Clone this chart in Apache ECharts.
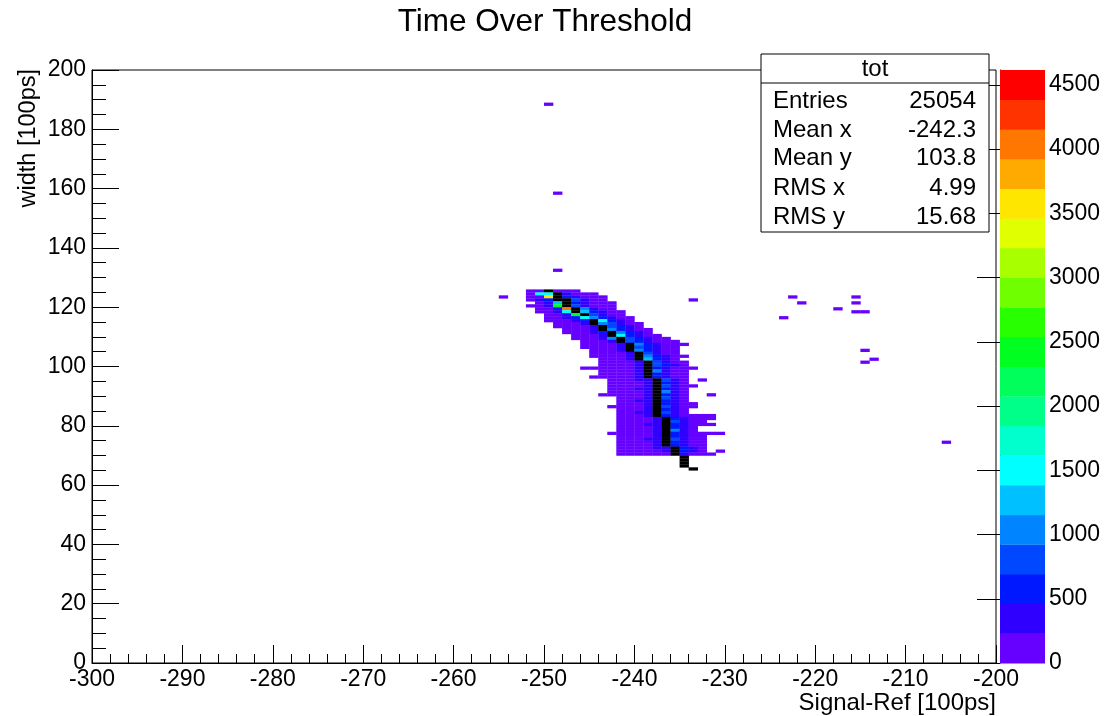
<!DOCTYPE html>
<html>
<head>
<meta charset="utf-8">
<title>Time Over Threshold</title>
<script src="https://cdn.jsdelivr.net/npm/echarts@6/dist/echarts.min.js"></script>
<style>
  html, body { margin: 0; padding: 0; background: #ffffff; }
  #chart { width: 1109px; height: 716px; }
</style>
</head>
<body>
<div id="chart"></div>
<script>
// ---- axis ranges and tick labels ----
const xRange = [-300, -200];
const yRange = [0, 200];
const xMajorStep = 10;
const yMajorStep = 20;
const zTicks = [0, 500, 1000, 1500, 2000, 2500, 3000, 3500, 4000, 4500];
const zMax = 4615;            // top of the colour scale
const aboveScaleCount = 5000; // bins drawn black, beyond the top of the scale

// ---- colour palette, lowest band first (20 contours) ----
const bandColors = [
  '#6600ff', '#3000ff', '#0018ff', '#0048ff', '#0084ff',
  '#00c0ff', '#00ffff', '#00ffcc', '#00ff88', '#00ff5a',
  '#00ff20', '#28ff00', '#70ff00', '#a8ff00', '#e0ff00',
  '#ffe600', '#ffaa00', '#ff7700', '#ff3300', '#ff0000'
];
const overflowColor = '#000000';

// ---- histogram "tot": one entry per y bin ----
// [y bin, first x bin, codes]; '.' = empty bin,
// '0'-'9','a'-'j' = colour band 0..19, 'K' = above the colour scale
const rows = [
  [125, -252, '00K000'],
  [124, -252, '066K1000'],
  [123, -252, '00fK21000'],
  [122, -252, '012KK3100'],
  [121, -251, '015K21000'],
  [120, -252, '001aK31000'],
  [119, -251, '002hK4100'],
  [118, -251, '0016K52100'],
  [117, -250, '001aK3100'],
  [116, -250, '0012642100'],
  [115, -250, '00012K6210'],
  [114, -249, '0001K43100'],
  [113, -249, '00001K3210'],
  [112, -248, '0001K42100'],
  [111, -248, '00012K4210'],
  [110, -247, '0001K62100'],
  [109, -247, '00014K32100'],
  [108, -246, '0001K321000'],
  [107, -246, '00001K421000'],
  [106, -246, '00001K32100'],
  [105, -245, '0001K42100'],
  [104, -245, '00001K3100'],
  [103, -245, '00001K42100'],
  [102, -244, '0001K5210'],
  [101, -244, '00001K3100'],
  [100, -244, '00001K3210'],
  [99,  -246, '0000001K21000'],
  [98,  -244, '00001K4100'],
  [97,  -244, '00001K2100'],
  [96,  -245, '000001K2100'],
  [95,  -243, '00011K310.0'],
  [94,  -243, '00001K210'],
  [93,  -243, '00001K3100'],
  [92,  -243, '00011K210'],
  [91,  -243, '00001K410'],
  [90,  -244, '000001K210..0'],
  [89,  -242, '0001K310'],
  [88,  -242, '0011K210'],
  [87,  -242, '0001K2100'],
  [86,  -243, '00001K3100'],
  [85,  -242, '0001K210'],
  [84,  -242, '0011K310'],
  [83,  -242, '0001K210000'],
  [82,  -242, '00001K21000'],
  [81,  -242, '00001K3100'],
  [80,  -242, '00011K21000'],
  [79,  -242, '00001K210'],
  [78,  -242, '00001K410'],
  [77,  -243, '000001K210000'],
  [76,  -242, '00001K2100'],
  [75,  -242, '00011K3100'],
  [74,  -242, '00001K2100'],
  [73,  -242, '00001K2100'],
  [72,  -242, '000011K210'],
  [71,  -242, '000001K210.0'],
  [70,  -242, '000000K1000'],
  [69,  -235, 'K'],
  [68,  -235, 'K'],
  [67,  -235, 'K'],
  [66,  -235, 'K'],
  [65,  -234, 'K']
];

// isolated bins away from the main band: [x bin, y bin, colour band]
const strayBins = [
  [-255, 123, 0], [-250, 188, 0], [-249, 158, 0], [-249, 132, 0],
  [-234, 122, 0], [-224, 116, 0], [-223, 123, 0], [-222, 121, 0],
  [-218, 119, 0], [-216, 123, 0], [-216, 121, 0], [-216, 118, 0],
  [-215, 118, 0], [-215, 105, 0], [-215, 101, 0], [-214, 102, 0],
  [-206, 74, 0]
];

// statistics box
const statsName = 'tot';
const statsLabels = ['Entries', 'Mean x', 'Mean y', 'RMS x', 'RMS y'];
const statsValues = ['25054', '-242.3', '103.8', '4.99', '15.68'];

const titleText = 'Time Over Threshold';
const xTitle = 'Signal-Ref [100ps]';
const yTitle = 'width [100ps]';

// ---- build the bin list ----
const bandWidth = zMax / bandColors.length;
function bandCount(band) { return (band + 0.5) * bandWidth; }
function codeCount(ch) { return ch === 'K' ? aboveScaleCount : bandCount(parseInt(ch, 36)); }

const bins = [];
rows.forEach(([y, x0, codes]) => {
  for (let i = 0; i < codes.length; i++) {
    const ch = codes[i];
    if (ch === '.') continue;
    bins.push([x0 + i, y, codeCount(ch)]);
  }
});
strayBins.forEach(([x, y, band]) => bins.push([x, y, bandCount(band)]));

function zColor(z) {
  if (z > zMax) return overflowColor;
  const b = Math.min(bandColors.length - 1, Math.floor(z / bandWidth));
  return bandColors[b];
}

// palette bands as data: [lower, upper, band index]
const paletteBands = bandColors.map((c, i) => [i * bandWidth, (i + 1) * bandWidth, i]);

// ---- layout ----
const FONT = '"Liberation Sans", Arial, Helvetica, sans-serif';
const plot = { left: 92, top: 70, width: 904, height: 593 };
const pal = { left: 1000, top: 70, width: 45, height: 593 };
const tickColor = '#000';

const chart = echarts.init(document.getElementById('chart'), null, { renderer: 'canvas' });

function renderBin(params, api) {
  const x = api.value(0), y = api.value(1), z = api.value(2);
  const a = api.coord([x, y + 1]);
  const b = api.coord([x + 1, y]);
  return {
    type: 'rect',
    shape: { x: a[0], y: a[1], width: b[0] - a[0] + 0.3, height: b[1] - a[1] + 0.3 },
    style: { fill: zColor(z) }
  };
}

function renderBand(params, api) {
  const lo = api.value(0), hi = api.value(1), i = api.value(2);
  const a = api.coord([0, hi]);
  const b = api.coord([1, lo]);
  return {
    type: 'rect',
    shape: { x: a[0], y: a[1], width: b[0] - a[0], height: b[1] - a[1] + 0.4 },
    style: { fill: bandColors[i] }
  };
}

// statistics box graphics
const sb = { left: 761, top: 54, right: 989, bottom: 232, sep: 83 };
const statsRowsY = [101, 130, 158, 188, 217];
const statsGraphics = [
  { type: 'rect', shape: { x: sb.left, y: sb.top, width: sb.right - sb.left, height: sb.bottom - sb.top },
    style: { fill: '#fff', stroke: '#000', lineWidth: 1 }, z: 100 },
  { type: 'line', shape: { x1: sb.left, y1: sb.sep, x2: sb.right, y2: sb.sep },
    style: { stroke: '#000', lineWidth: 1 }, z: 101 },
  { type: 'text', x: (sb.left + sb.right) / 2, y: 69, z: 101,
    style: { text: statsName, font: '24px ' + FONT, fill: '#000', align: 'center', verticalAlign: 'middle' } }
];
statsLabels.forEach((lab, i) => {
  statsGraphics.push({ type: 'text', x: 773, y: statsRowsY[i], z: 101,
    style: { text: lab, font: '24px ' + FONT, fill: '#000', align: 'left', verticalAlign: 'middle' } });
  statsGraphics.push({ type: 'text', x: 976, y: statsRowsY[i], z: 101,
    style: { text: statsValues[i], font: '24px ' + FONT, fill: '#000', align: 'right', verticalAlign: 'middle' } });
});

const plainNumber = v => String(v);

const option = {
  animation: false,
  backgroundColor: '#ffffff',
  textStyle: { fontFamily: FONT },
  grid: [
    Object.assign({ show: true, borderColor: '#000', borderWidth: 1, backgroundColor: 'transparent', outerBoundsMode: 'none' }, plot),
    Object.assign({ show: false, outerBoundsMode: 'none' }, pal)
  ],
  xAxis: [
    {
      gridIndex: 0, type: 'value', min: xRange[0], max: xRange[1], interval: xMajorStep,
      axisLine: { show: true, lineStyle: { color: tickColor, width: 1 } },
      axisTick: { show: true, inside: true, length: 18, lineStyle: { color: tickColor, width: 1 } },
      minorTick: { show: true, splitNumber: 5, length: 9, lineStyle: { color: tickColor, width: 1 } },
      splitLine: { show: false },
      axisLabel: { fontSize: 23, color: '#000', margin: 5, fontFamily: FONT, formatter: plainNumber }
    },
    {
      gridIndex: 1, type: 'value', min: 0, max: 1, show: false
    }
  ],
  yAxis: [
    {
      gridIndex: 0, type: 'value', min: yRange[0], max: yRange[1], interval: yMajorStep,
      axisLine: { show: true, lineStyle: { color: tickColor, width: 1 } },
      axisTick: { show: true, inside: true, length: 27, lineStyle: { color: tickColor, width: 1 } },
      minorTick: { show: true, splitNumber: 4, length: 14, lineStyle: { color: tickColor, width: 1 } },
      splitLine: { show: false },
      axisLabel: { fontSize: 23, color: '#000', margin: 6, fontFamily: FONT, formatter: plainNumber }
    },
    {
      gridIndex: 1, type: 'value', min: 0, max: zMax, position: 'right',
      axisLine: { show: true, lineStyle: { color: tickColor, width: 1 } },
      axisTick: { show: true, inside: true, length: 23, customValues: zTicks, lineStyle: { color: tickColor, width: 1 } },
      splitLine: { show: false },
      axisLabel: { fontSize: 23, color: '#000', margin: 4, fontFamily: FONT, customValues: zTicks, formatter: plainNumber }
    }
  ],
  series: [
    {
      type: 'custom', name: statsName, xAxisIndex: 0, yAxisIndex: 0,
      renderItem: renderBin, data: bins, clip: true,
      encode: { x: 0, y: 1 }
    },
    {
      type: 'custom', name: 'palette', xAxisIndex: 1, yAxisIndex: 1,
      renderItem: renderBand, data: paletteBands, z: 1,
      encode: { y: [0, 1] }
    }
  ],
  graphic: [
    { type: 'text', x: 545, y: 22,
      style: { text: titleText, font: '31.5px ' + FONT, fill: '#000', align: 'center', verticalAlign: 'middle' } },
    { type: 'text', x: 996, y: 703,
      style: { text: xTitle, font: '24px ' + FONT, fill: '#000', align: 'right', verticalAlign: 'middle' } },
    { type: 'text', x: 29, y: 69, rotation: Math.PI / 2,
      style: { text: yTitle, font: '23.5px ' + FONT, fill: '#000', align: 'right', verticalAlign: 'middle' } }
  ].concat(statsGraphics)
};

chart.setOption(option);
</script>
</body>
</html>
